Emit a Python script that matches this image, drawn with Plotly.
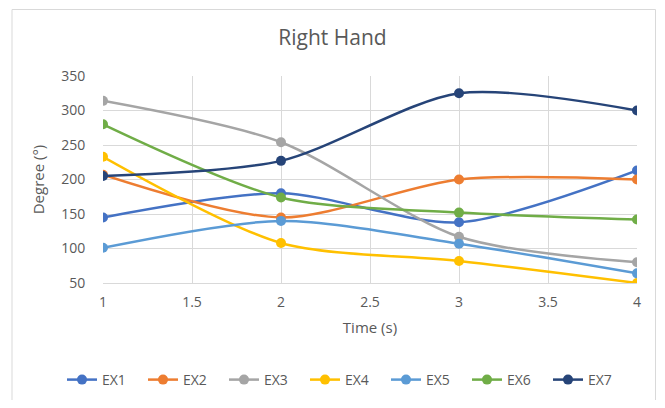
import plotly.graph_objects as go

time_s = [1, 2, 3, 4]
series_names = ["EX1", "EX2", "EX3", "EX4", "EX5", "EX6", "EX7"]
ex1 = [145, 180, 138, 213]
ex2 = [207, 145, 200, 200]
ex3 = [314, 254, 117, 80]
ex4 = [233, 108, 82, 50]
ex5 = [101, 140, 107, 64]
ex6 = [280, 174, 152, 142]
ex7 = [205, 227, 325, 300]
series_values = [ex1, ex2, ex3, ex4, ex5, ex6, ex7]
colors = ["#4472C4", "#ED7D31", "#A5A5A5", "#FFC000", "#5B9BD5", "#70AD47", "#264478"]

# page has an 8px body margin; work in figure coordinates
O = 8
W, H = 665 - 2 * O, 408 - 2 * O
ml, mr, mt, mb = 103 - O, W - (637 - O), 76 - O, H - (283 - O)
pw = W - ml - mr
ph = H - mt - mb

fig = go.Figure()
for name, vals, c in zip(series_names, series_values, colors):
    fig.add_trace(go.Scatter(
        x=time_s, y=vals, name=name, mode="lines+markers",
        line=dict(color=c, width=2.5, shape="spline", smoothing=0.8),
        marker=dict(color=c, size=10),
    ))

fig.update_layout(
    width=W, height=H,
    margin=dict(l=ml, r=mr, t=mt, b=mb, autoexpand=False),
    paper_bgcolor="white", plot_bgcolor="white",
    font=dict(family="Open Sans, Noto Sans, sans-serif", color="#595959", size=13),
    title=dict(text="Right Hand", x=0.5, xanchor="center", y=1 - (38 - O) / H, yanchor="middle",
               font=dict(size=21, color="#595959")),
    xaxis=dict(range=[1, 4], dtick=0.5, tick0=1, showgrid=True, gridcolor="#D9D9D9",
               gridwidth=1, zeroline=False, showline=True, linecolor="#D9D9D9",
               ticks="outside", ticklen=6, tickcolor="rgba(0,0,0,0)", automargin=False,
               tickfont=dict(size=14, color="#595959"),
               title=dict(text="Time (s)", font=dict(size=15, color="#595959"), standoff=12)),
    yaxis=dict(range=[50, 350], dtick=50, showgrid=True, gridcolor="#D9D9D9",
               gridwidth=1, zeroline=False, showline=False,
               ticks="outside", ticklen=14, tickcolor="rgba(0,0,0,0)", automargin=False,
               tickfont=dict(size=14, color="#595959"),
               title=dict(text="Degree (°)", font=dict(size=15, color="#595959"), standoff=12)),
    legend=dict(orientation="h", xref="paper", yref="paper",
                x=(62 - O - ml) / pw, xanchor="left", y=-(380 - 283) / ph,
                yanchor="middle", font=dict(size=14, color="#595959"),
                itemwidth=30, entrywidth=36, entrywidthmode="pixels", tracegroupgap=0),
    showlegend=True,
)

fig.add_shape(type="rect", xref="paper", yref="paper",
              x0=(12 - O - ml) / pw, x1=(W - 1.5 - ml) / pw,
              y0=-(H + 5 - mt - ph) / ph, y1=(mt - 1.5) / ph + 1,
              line=dict(color="#D9D9D9", width=1), layer="above")

fig.write_html("out.html")
